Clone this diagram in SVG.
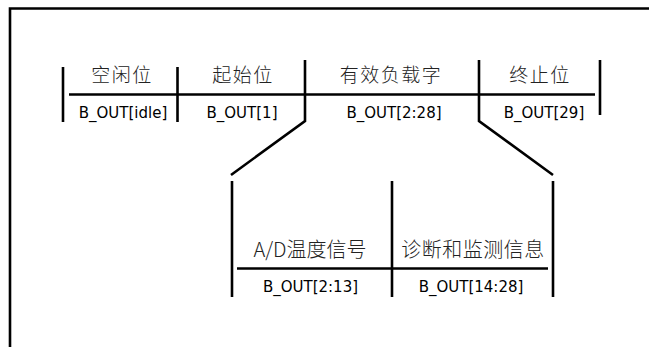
<svg xmlns="http://www.w3.org/2000/svg" width="649" height="347" viewBox="0 0 649 347">
<style>
.ln{stroke:#000;stroke-width:2.6;fill:none;stroke-linecap:butt}
.cn{font-family:"Noto Sans CJK SC","Noto Sans",sans-serif;font-size:19px;font-weight:300;fill:#222;text-anchor:middle;letter-spacing:1.5px}
.cn2{font-family:"Noto Sans CJK SC","Noto Sans",sans-serif;font-size:20px;font-weight:300;fill:#222;text-anchor:middle}
.bo{font-family:"DejaVu Sans","Liberation Sans",sans-serif;font-size:15px;fill:#000;text-anchor:middle}
</style>
<rect width="649" height="347" fill="#fff"/>
<g id="frame">
<path class="ln" d="M10,347 V8.5 H649"/>
</g>
<g id="connectors">
<path class="ln" d="M69,94.5 H595"/>
<path class="ln" d="M63,67 V122"/>
<path class="ln" d="M177.5,67 V122"/>
<path class="ln" d="M305,60 V121 L231,175"/>
<path class="ln" d="M479,60 V121 L553,175"/>
<path class="ln" d="M600,60 V115"/>
<path class="ln" d="M232,181 V297"/>
<path class="ln" d="M392,181 V297"/>
<path class="ln" d="M553,181 V297"/>
<path class="ln" d="M237,268.5 H548"/>
</g>
<g id="idle"><text class="cn" x="122" y="81.5">空闲位</text><text class="bo" x="123" y="118">B_OUT[idle]</text></g>
<g id="start"><text class="cn" x="243" y="81.5">起始位</text><text class="bo" x="242" y="118">B_OUT[1]</text></g>
<g id="payload"><text class="cn" x="391" y="81.5">有效负载字</text><text class="bo" x="394" y="118">B_OUT[2:28]</text></g>
<g id="stop"><text class="cn" x="540" y="81.5">终止位</text><text class="bo" x="544" y="118">B_OUT[29]</text></g>
<g id="ad"><text class="cn2" x="310" y="257">A/D温度信号</text><text class="bo" x="310.5" y="292">B_OUT[2:13]</text></g>
<g id="diag"><text class="cn2" x="473" y="257" letter-spacing="0.5">诊断和监测信息</text><text class="bo" x="471" y="292">B_OUT[14:28]</text></g>
</svg>
